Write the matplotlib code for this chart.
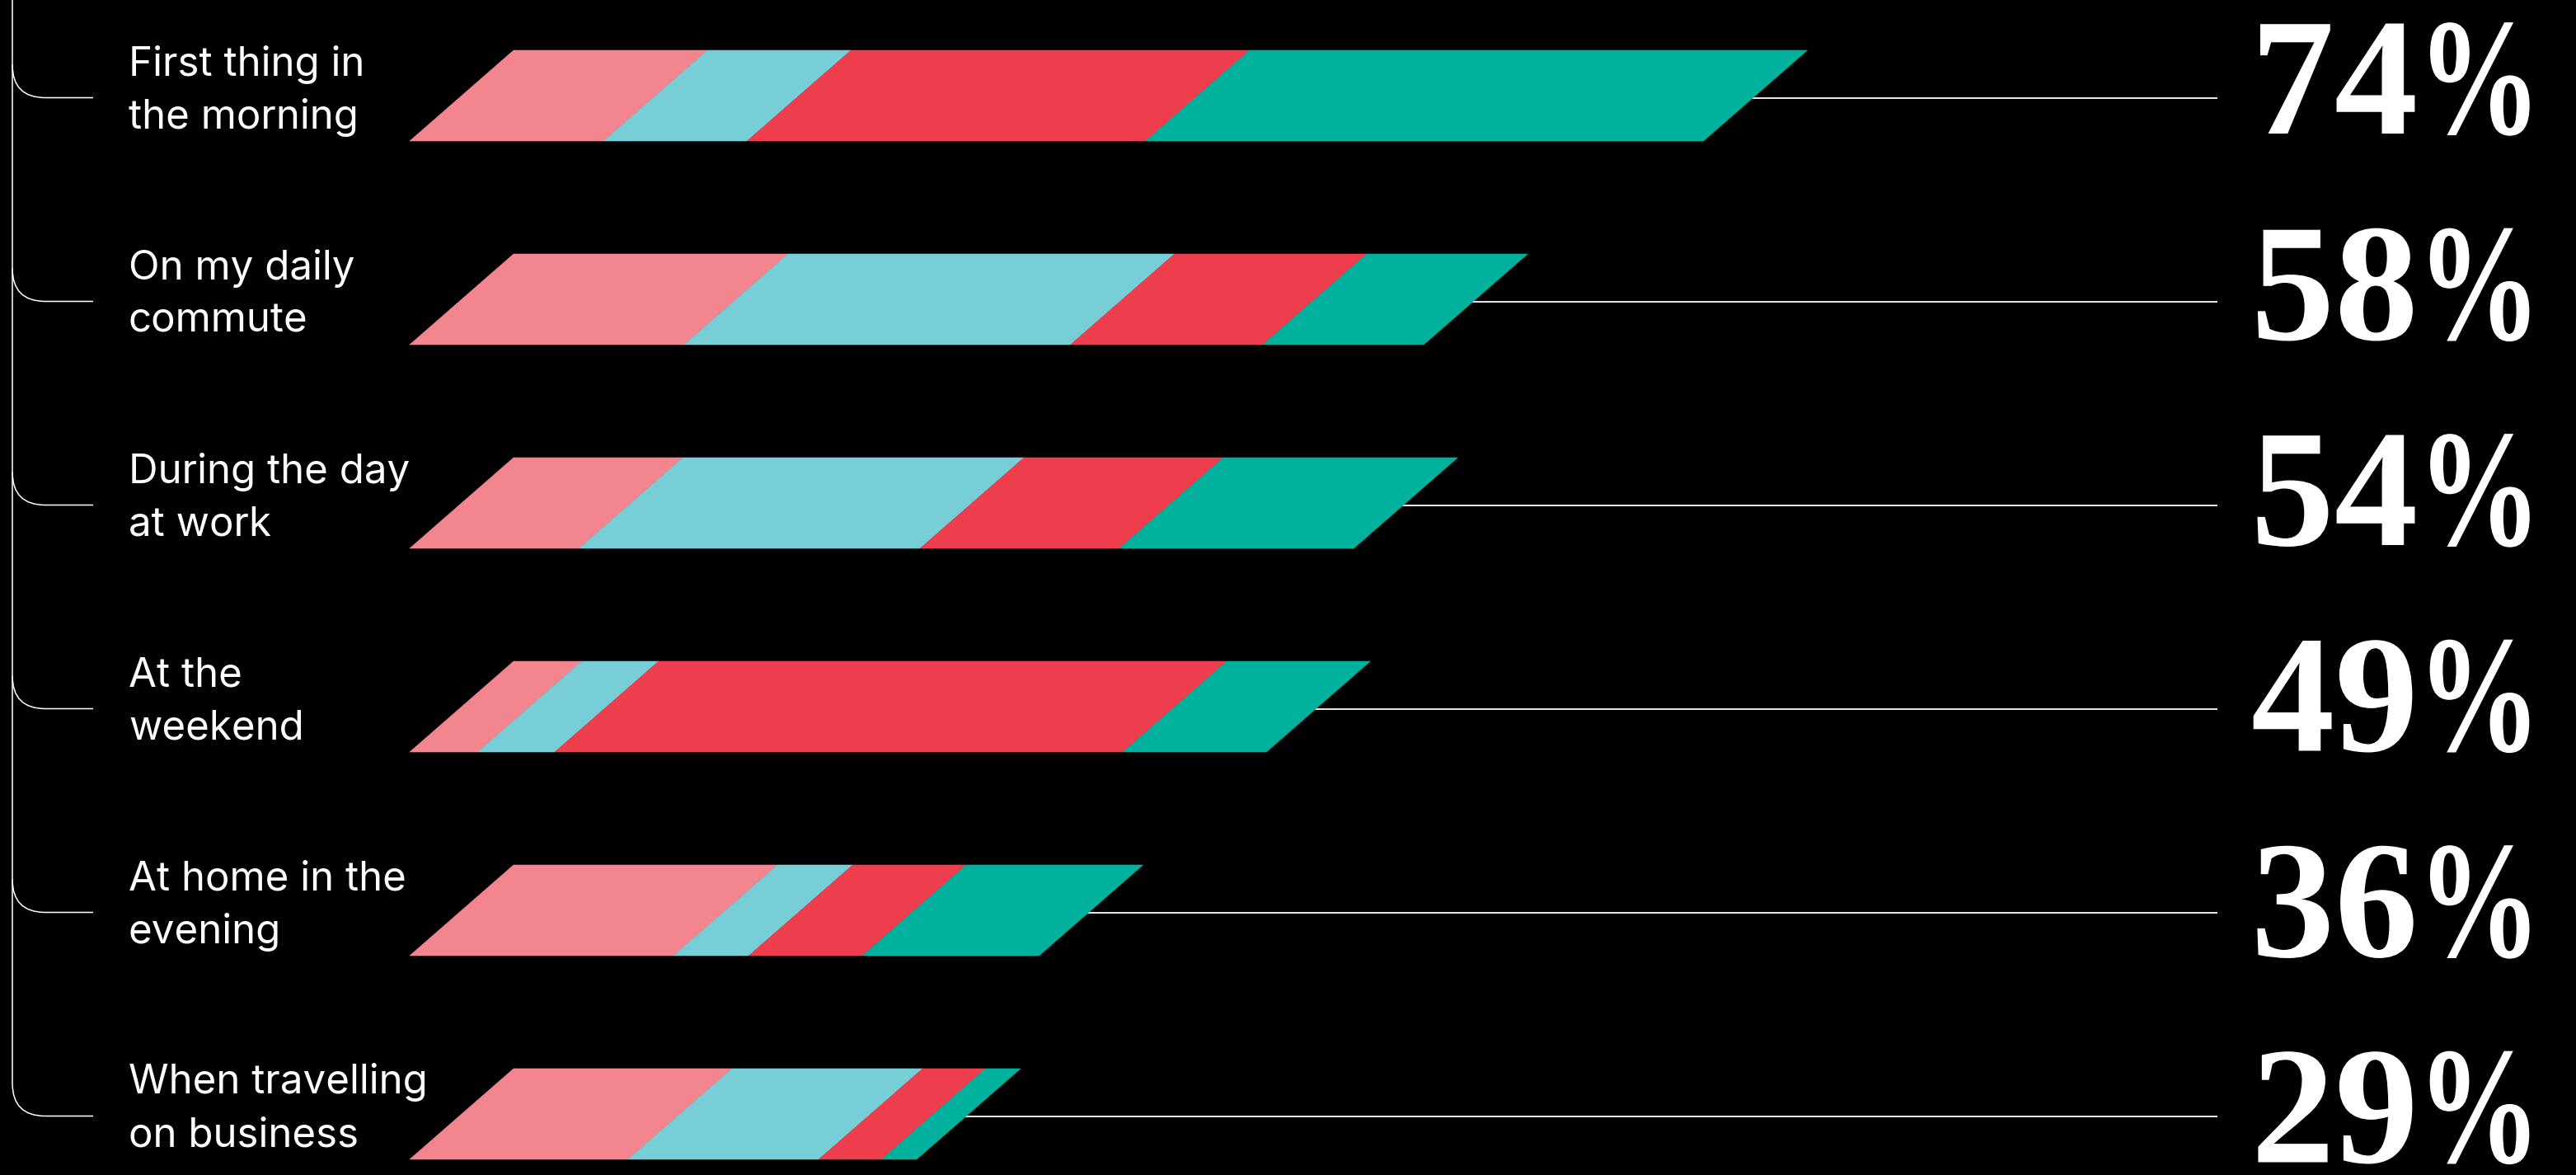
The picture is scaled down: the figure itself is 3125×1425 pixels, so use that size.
import numpy as np
import matplotlib
matplotlib.use('Agg')
import matplotlib.pyplot as plt
from matplotlib.path import Path
from matplotlib.patches import PathPatch, Polygon
from matplotlib.patheffects import AbstractPathEffect
from matplotlib.textpath import TextPath
from matplotlib.font_manager import FontProperties

# share of respondents per moment, split in four groups
categories = [
    "First thing in\nthe morning",
    "On my daily\ncommute",
    "During the day\nat work",
    "At the\nweekend",
    "At home in the\nevening",
    "When travelling\non business",
]
totals = [74, 58, 54, 49, 36, 29]
seg_pink = [11.1, 15.7, 9.7, 3.9, 15.1, 12.5]
seg_cyan = [8.2, 22.1, 19.5, 4.4, 4.3, 10.9]
seg_red = [22.8, 11.0, 11.4, 32.5, 6.5, 3.6]
seg_teal = [31.9, 9.2, 13.4, 8.2, 10.1, 2.0]

colors = ['#f3858f', '#77ced7', '#ee3e4e', '#00b29e']

W, H = 3125, 1425
DPI = 100
PX_PER_PCT = 21.21      # bar length scale
X0 = 497                # pixel where 0 % sits
SLANT = 126 / PX_PER_PCT
ROW_TOP0, ROW_STEP, BAR_H = 61, 247, 110

value_font = FontProperties(family='Liberation Serif', weight='bold', size=146)


class NarrowTail(AbstractPathEffect):
    """Squeeze the glyphs right of `split` (font units) and keep the text centred."""
    def __init__(self, split, sx):
        super().__init__()
        self.split = split
        self.sx = sx

    def draw_path(self, renderer, gc, tpath, affine, rgbFace=None):
        v = tpath.vertices.copy()
        x_old = v[:, 0]
        c_old = 0.5 * (x_old.min() + x_old.max())
        tail = x_old > self.split
        v[tail, 0] = self.split + (x_old[tail] - self.split) * self.sx
        c_new = 0.5 * (v[:, 0].min() + v[:, 0].max())
        v[:, 0] += c_old - c_new
        renderer.draw_path(gc, Path(v, tpath.codes), affine, rgbFace)


fig = plt.figure(figsize=(W / DPI, H / DPI), dpi=DPI, facecolor='black')

# pixel-space axes for labels and the bracket
ax_px = fig.add_axes([0, 0, 1, 1])
ax_px.set_xlim(0, W)
ax_px.set_ylim(H, 0)
ax_px.axis('off')

# percent-space axes for the bars
ax = fig.add_axes([0, 0, 1, 1])
ax.set_xlim(-X0 / PX_PER_PCT, (W - X0) / PX_PER_PCT)
ax.set_ylim(H, 0)
ax.axis('off')
ax.patch.set_alpha(0)

line_end = (2690 - X0) / PX_PER_PCT
segs = np.array([seg_pink, seg_cyan, seg_red, seg_teal]).T

for i, row in enumerate(segs):
    top = ROW_TOP0 + ROW_STEP * i
    bot = top + BAR_H
    mid = top + 57.5

    # leader line out to the value
    ax.plot([totals[i] * 0.5, line_end], [mid, mid], color='#ececec', lw=1.4,
            zorder=1, solid_capstyle='butt')

    left = 0.0
    for v, c in zip(row, colors):
        right = left + v
        poly = Polygon([(left, bot), (right, bot), (right + SLANT, top), (left + SLANT, top)],
                       closed=True, facecolor=c, edgecolor=c, lw=0.4, zorder=3)
        ax.add_patch(poly)
        left = right

    # category label, two lines
    line1, line2 = categories[i].split('\n')
    for dy, s in ((-27, line1), (37, line2)):
        ax_px.text(156, mid + dy, s, color='white', fontsize=35.5, family='Inter',
                   va='baseline', ha='left')

    # bracket branch
    r = 40
    if i < len(categories) - 1:
        verts = [(15, mid - r), (15, mid), (15 + r, mid), (113, mid)]
        codes = [Path.MOVETO, Path.CURVE3, Path.CURVE3, Path.LINETO]
    else:
        verts = [(15, 0), (15, mid - r), (15, mid), (15 + r, mid), (113, mid)]
        codes = [Path.MOVETO, Path.LINETO, Path.CURVE3, Path.CURVE3, Path.LINETO]
    ax_px.add_patch(PathPatch(Path(verts, codes), facecolor='none', edgecolor='white', lw=1.1))

    # big value, the percent sign drawn narrower than the digits
    digits = str(totals[i])
    split = TextPath((0, 0), digits, size=100, prop=value_font).get_extents().x1 + 1
    cy = 93.5 + 249.5 * i
    t = ax_px.text(2909, cy + 68.5, f"{digits}%", color='white',
                   fontproperties=value_font, ha='center', va='baseline')
    t.set_path_effects([NarrowTail(split, 0.74)])

fig.savefig('out.png', dpi=DPI, facecolor='black')
